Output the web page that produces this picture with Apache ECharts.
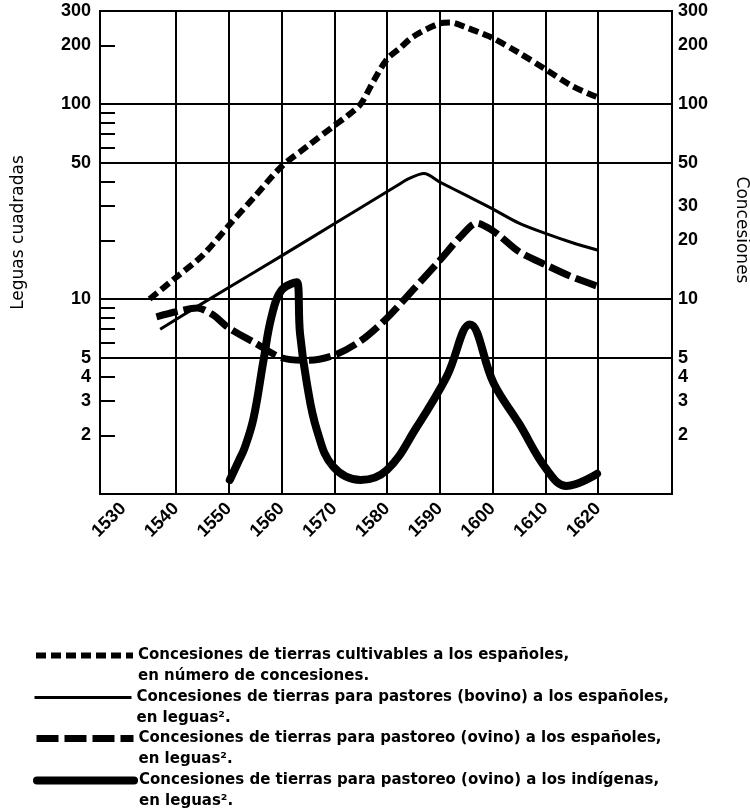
<!DOCTYPE html>
<html><head><meta charset="utf-8">
<script src="https://cdn.jsdelivr.net/npm/echarts@6/dist/echarts.min.js"></script>
<style>html,body{margin:0;padding:0;background:#fff}#c{width:750px;height:812px}</style>
</head><body><div id="c"></div>
<script>
// Concesiones de tierras cultivables (número de concesiones)
const cultYears  = [1535, 1540, 1545, 1550, 1555, 1560, 1565, 1570, 1572.5, 1575, 1577.5, 1580, 1582.5, 1585, 1590, 1592, 1595, 1598, 1600, 1605, 1610, 1615, 1620];
const cultValues = [10, 12.9, 16.7, 23.8, 33.7, 47.8, 61, 77.5, 87, 100, 132, 170, 194, 222, 259, 262, 247, 230, 218, 183, 151, 124, 108];
// Pastores (bovino) a los españoles, leguas²
const bovYears  = [1537, 1545, 1555, 1565, 1575, 1582, 1584, 1587, 1590, 1595, 1600, 1605, 1610, 1615, 1620];
const bovValues = [7.0, 9.5, 13.8, 20.1, 29.4, 38.3, 41.3, 44, 39.8, 34, 29, 24.5, 21.7, 19.5, 17.8];
// Pastoreo (ovino) a los españoles, leguas²
const ovEspYears  = [1536.3, 1540, 1544, 1547, 1550, 1555, 1560, 1565, 1570, 1575, 1580, 1585, 1590, 1594, 1597, 1599, 1601, 1605, 1610, 1615, 1620];
const ovEspValues = [8.1, 8.6, 9.0, 8.3, 7.1, 5.95, 5.0, 4.85, 5.15, 6.1, 8.0, 11.2, 15.8, 21, 24.5, 23.3, 21.5, 17.5, 15, 13, 11.6];
// Pastoreo (ovino) a los indígenas, leguas²
const ovIndYears  = [1550.2, 1552, 1553, 1554.7, 1556.6, 1558.1, 1560, 1562.9, 1563.5, 1564.8, 1566.7, 1569.8, 1575, 1580, 1585.6, 1591.3, 1595.7, 1600.2, 1605, 1610.3, 1614, 1619.8];
const ovIndValues = [1.18, 1.5, 1.72, 2.45, 4.87, 8.1, 11.1, 12.2, 6.67, 3.7, 2.13, 1.38, 1.18, 1.33, 2.2, 4.0, 7.4, 3.7, 2.3, 1.33, 1.1, 1.27];

const xTickLabels = [1530, 1540, 1550, 1560, 1570, 1580, 1590, 1600, 1610, 1620];
const gridYears = [1540, 1550, 1560, 1570, 1580, 1590, 1600, 1610, 1620];
const gridValues = [100, 50, 10, 5];
const leftLabels = [2, 3, 4, 5, 10, 50, 100, 200, 300];
const rightLabels = [2, 3, 4, 5, 10, 20, 30, 50, 100, 200, 300];
const leftTicks = [2, 3, 4, 6, 7, 8, 9, 20, 30, 40, 60, 70, 80, 90, 200, 300];
const legendNames = [
  'Concesiones de tierras cultivables a los españoles,\nen número de concesiones.',
  'Concesiones de tierras para pastores (bovino) a los españoles,\nen leguas².',
  'Concesiones de tierras para pastoreo (ovino) a los españoles,\nen leguas².',
  'Concesiones de tierras para pastoreo (ovino) a los indígenas,\nen leguas².'
];
const legendTops = [624, 666, 707, 749];
const zip = (a, b) => a.map((v, i) => [v, b[i]]);

const chart = echarts.init(document.getElementById('c'), null, {renderer: 'canvas'});
const axisFont = {fontFamily: 'Liberation Sans', fontWeight: 'bold', color: '#000'};
const yBase = {
  type: 'log', logBase: 10, min: 1, max: 300,
  axisLine: {show: true, lineStyle: {color: '#000', width: 2}},
  splitLine: {show: false}, minorTick: {show: false}
};
const legends = legendNames.map((n, i) => ({
  data: [n], orient: 'vertical', left: 33, top: legendTops[i], padding: 0,
  itemWidth: 97, itemHeight: 14, selectedMode: false,
  lineStyle: {width: 'inherit'},
  itemStyle: {opacity: 0, borderWidth: 0},
  formatter: name => '\n' + name,
  textStyle: {fontFamily: 'DejaVu Sans', fontWeight: 'bold', fontSize: 15, color: '#000', lineHeight: 21}
}));
const option = {
  animation: false,
  backgroundColor: '#fff',
  grid: {left: 100, right: 78, top: 11, bottom: 318, outerBoundsMode: 'none', containLabel: false,
         show: true, borderColor: '#000', borderWidth: 2, backgroundColor: 'transparent'},
  xAxis: {
    type: 'value', min: 1525.6, max: 1634,
    axisLine: {show: true, onZero: false, lineStyle: {color: '#000', width: 2}},
    axisTick: {show: false}, splitLine: {show: false},
    axisLabel: Object.assign({customValues: xTickLabels, rotate: 45, fontSize: 18, margin: 12, formatter: v => String(v)}, axisFont)
  },
  yAxis: [
    Object.assign({}, yBase, {
      position: 'left',
      name: 'Leguas cuadradas', nameLocation: 'middle', nameGap: 73, nameRotate: 90,
      nameTextStyle: {fontFamily: 'DejaVu Sans', fontSize: 17, color: '#000', padding: [0, 0, 0, 40]},
      axisTick: {show: true, inside: true, length: 15, customValues: leftTicks, lineStyle: {color: '#000', width: 2}},
      axisLabel: Object.assign({customValues: leftLabels, fontSize: 18, margin: 9, formatter: v => String(v)}, axisFont)
    }),
    Object.assign({}, yBase, {
      position: 'right',
      name: 'Concesiones', nameLocation: 'middle', nameGap: 61, nameRotate: -90,
      nameTextStyle: {fontFamily: 'DejaVu Sans', fontSize: 17, color: '#000', padding: [0, 45, 0, 0]},
      axisTick: {show: false},
      axisLabel: Object.assign({customValues: rightLabels, fontSize: 18, margin: 6, formatter: v => String(v)}, axisFont)
    })
  ],
  legend: legends,
  series: [
    {
      name: '', type: 'line', data: [], silent: true, z: 1,
      markLine: {
        silent: true, symbol: ['none', 'none'], label: {show: false},
        lineStyle: {color: '#000', width: 2, type: 'solid'},
        emphasis: {disabled: true},
        data: gridYears.map(y => ({xAxis: y})).concat(gridValues.map(v => ({yAxis: v})))
      }
    },
    {
      name: legendNames[0], type: 'line', yAxisIndex: 1, symbol: 'none', smooth: 0.3, z: 5,
      data: zip(cultYears, cultValues),
      lineStyle: {color: '#000', width: 6, type: [10, 5], cap: 'butt'}, itemStyle: {color: '#000'}
    },
    {
      name: legendNames[1], type: 'line', symbol: 'none', smooth: 0.3, z: 5,
      data: zip(bovYears, bovValues),
      lineStyle: {color: '#000', width: 3}, itemStyle: {color: '#000'}
    },
    {
      name: legendNames[2], type: 'line', symbol: 'none', smooth: 0.3, z: 5,
      data: zip(ovEspYears, ovEspValues),
      lineStyle: {color: '#000', width: 7, type: [22, 6], cap: 'butt'}, itemStyle: {color: '#000'}
    },
    {
      name: legendNames[3], type: 'line', symbol: 'none', smooth: 0.4, z: 5,
      data: zip(ovIndYears, ovIndValues),
      lineStyle: {color: '#000', width: 8, cap: 'round', join: 'round'}, itemStyle: {color: '#000'}
    }
  ]
};
chart.setOption(option);
</script></body></html>
